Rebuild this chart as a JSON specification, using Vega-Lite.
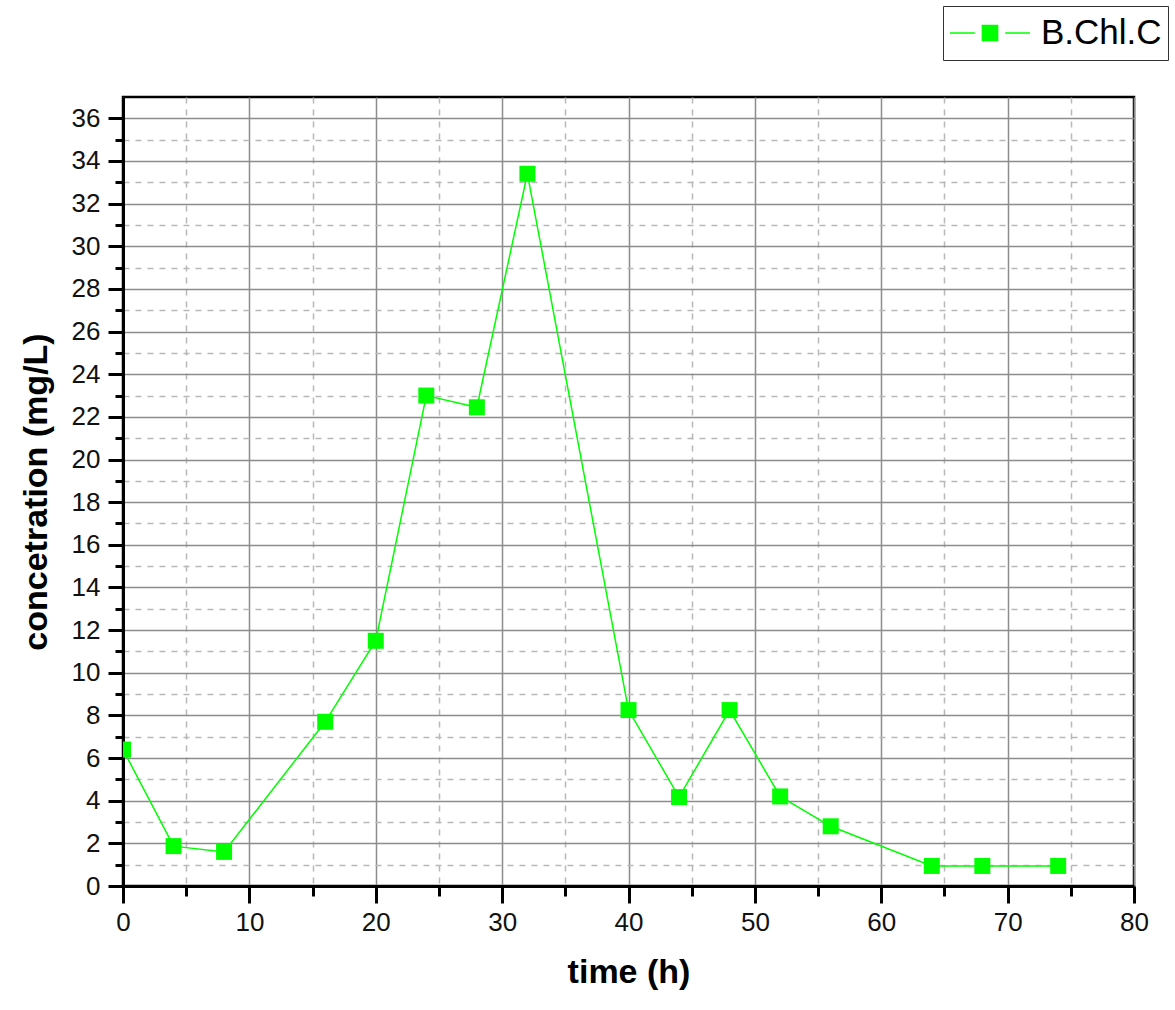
{
  "$schema": "https://vega.github.io/schema/vega-lite/v6.json",
  "autosize": {"type": "none"},
  "width": 1011,
  "height": 789,
  "padding": {"left": 123, "top": 97, "right": 41, "bottom": 124},
  "background": "white",
  "config": {
    "view": {"stroke": "#000000", "strokeWidth": 2.5},
    "font": "Liberation Sans"
  },
  "data": {
    "values": [
      {"time": 0, "conc": 6.4},
      {"time": 4, "conc": 1.87},
      {"time": 8, "conc": 1.6},
      {"time": 16, "conc": 7.7},
      {"time": 20, "conc": 11.5},
      {"time": 24, "conc": 23.0},
      {"time": 28, "conc": 22.45},
      {"time": 32, "conc": 33.4},
      {"time": 40, "conc": 8.25},
      {"time": 44, "conc": 4.17},
      {"time": 48, "conc": 8.25},
      {"time": 52, "conc": 4.2},
      {"time": 56, "conc": 2.8},
      {"time": 64, "conc": 0.94},
      {"time": 68, "conc": 0.94},
      {"time": 74, "conc": 0.94}
    ]
  },
  "layer": [
    {
      "mark": {"type": "line", "color": "#00ff00", "strokeWidth": 1.5, "clip": true},
      "encoding": {
        "x": {
          "field": "time", "type": "quantitative",
          "scale": {"domain": [0, 80], "nice": false, "zero": false},
          "axis": {
            "orient": "bottom",
            "values": [0, 10, 20, 30, 40, 50, 60, 70, 80],
            "title": "time (h)",
            "titleFont": "Liberation Sans", "titleFontSize": 34, "titleFontWeight": "bold", "titleColor": "#000",
            "titlePadding": 20,
            "labelFont": "Liberation Sans", "labelFontSize": 26, "labelColor": "#111", "labelPadding": 6,
            "labelFlush": false,
            "domainColor": "#000", "domainWidth": 3,
            "tickColor": "#000", "tickWidth": 3, "tickSize": 17,
            "grid": true, "gridColor": "#8c8c8c", "gridWidth": 1.5
          }
        },
        "y": {
          "field": "conc", "type": "quantitative",
          "scale": {"domain": [0, 37], "nice": false, "zero": true},
          "axis": {
            "orient": "left",
            "values": [0, 2, 4, 6, 8, 10, 12, 14, 16, 18, 20, 22, 24, 26, 28, 30, 32, 34, 36],
            "title": "concetration (mg/L)",
            "titleFont": "Liberation Sans", "titleFontSize": 34, "titleFontWeight": "bold", "titleColor": "#000",
            "titlePadding": 18,
            "labelFont": "Liberation Sans", "labelFontSize": 26, "labelColor": "#111", "labelPadding": 8,
            "labelFlush": false,
            "domainColor": "#000", "domainWidth": 3,
            "tickColor": "#000", "tickWidth": 3, "tickSize": 15,
            "grid": true, "gridColor": "#8c8c8c", "gridWidth": 1.5
          }
        },
        "color": {
          "datum": "B.Chl.C",
          "scale": {"range": ["#00ff00"]},
          "legend": {
            "title": null,
            "orient": "none",
            "legendX": 820,
            "legendY": -91,
            "symbolType": "M-1,0H-0.38M0.38,0H1M-0.19,-0.19H0.19V0.19H-0.19Z",
            "symbolSize": 6400,
            "symbolStrokeColor": "#00ff00",
            "symbolFillColor": "#00ff00",
            "symbolStrokeWidth": 1.5,
            "clipHeight": 42,
            "labelFont": "Liberation Sans",
            "labelFontSize": 35,
            "labelColor": "#000",
            "labelOffset": 10,
            "fillColor": "white",
            "strokeColor": "#333",
            "padding": 6
          }
        }
      }
    },
    {
      "mark": {"type": "point", "shape": "square", "filled": true, "size": 256, "opacity": 1, "clip": true},
      "encoding": {
        "x": {
          "field": "time", "type": "quantitative",
          "axis": {
            "orient": "bottom",
            "values": [5, 15, 25, 35, 45, 55, 65, 75],
            "title": null, "labels": false, "domain": false,
            "tickColor": "#000", "tickWidth": 3, "tickSize": 10,
            "grid": true, "gridColor": "#b8b8b8", "gridWidth": 1.5, "gridDash": [6, 6]
          }
        },
        "y": {
          "field": "conc", "type": "quantitative",
          "axis": {
            "orient": "left",
            "values": [1, 3, 5, 7, 9, 11, 13, 15, 17, 19, 21, 23, 25, 27, 29, 31, 33, 35],
            "title": null, "labels": false, "domain": false,
            "tickColor": "#000", "tickWidth": 3, "tickSize": 8,
            "grid": true, "gridColor": "#b8b8b8", "gridWidth": 1.5, "gridDash": [6, 6]
          }
        },
        "color": {"datum": "B.Chl.C"}
      }
    }
  ],
  "resolve": {"axis": {"x": "independent", "y": "independent"}}
}
